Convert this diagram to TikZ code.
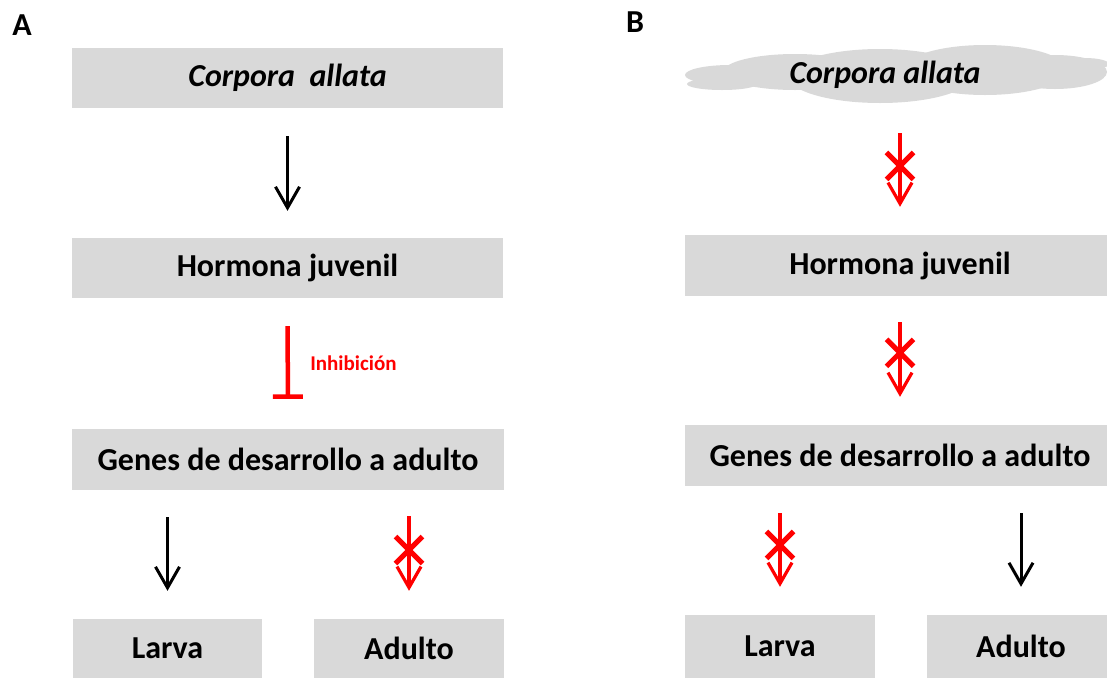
\documentclass[tikz,border=0pt]{standalone}
\usepackage{fontspec}
\setmainfont{Carlito}
\usetikzlibrary{arrows.meta,shapes.misc,calc}
\definecolor{boxgray}{HTML}{D9D9D9}
\definecolor{inhred}{HTML}{FF0000}
\tikzset{
  box/.style={fill=boxgray, draw=none, inner sep=0pt, font=\fontsize{32}{36}\selectfont\bfseries},
  blackarr/.style={draw=black, line width=3pt, -{Straight Barb[length=21pt,width=24pt]}},
  redarr/.style={draw=inhred, line width=3.2pt, -{Straight Barb[length=21pt,width=24pt]}},
  inharr/.style={draw=inhred, line width=4.5pt, -{Bar[width=30pt]}},
  xmark/.style={cross out, draw=inhred, line width=5pt, minimum width=27pt, minimum height=27pt, inner sep=0pt, outer sep=0pt},
  panel/.style={font=\fontsize{32}{36}\selectfont\bfseries},
  cloudpart/.style={fill=boxgray, draw=none}
}
\begin{document}
\begin{tikzpicture}[x=1pt,y=-1pt]
\useasboundingbox (0,0) rectangle (1107,678);
% ---------------- Panel A
\node[panel] (pa) at (22,25) {A};
\node[box, minimum width=431pt, minimum height=60pt] (a1) at (287.5,78) {\itshape Corpora\ \ allata};
\node[box, minimum width=431pt, minimum height=60pt] (a2) at (287.5,268) {Hormona juvenil};
\node[box, minimum width=432pt, minimum height=61pt] (a3) at (288,459.5) {Genes de desarrollo a adulto};
\node[box, minimum width=189pt, minimum height=59pt] (a4) at (167.5,648.5) {Larva};
\node[box, minimum width=190pt, minimum height=59pt] (a5) at (409,648.5) {Adulto};
\draw[blackarr, shorten <=28pt, shorten >=27pt] (a1.south) -- (a2.north);
\draw[inharr, shorten <=28pt, shorten >=30pt] (a2.south) -- node[right=17pt, text=inhred, font=\fontsize{21}{24}\selectfont\bfseries] (inh) {Inhibición} (a3.north);
\draw[blackarr, shorten <=27pt, shorten >=28pt] (a3.south -| a4.north) -- (a4.north);
\draw[redarr, shorten <=26pt, shorten >=28pt] (a3.south -| a5.north) -- (a5.north);
\node[xmark] (xa) at ($(a3.south -| a5.north)!0.465!(a5.north)$) {};
% ---------------- Panel B
\node[panel] (pb) at (635,22) {B};
\begin{scope}
\fill[cloudpart] (730,75) ellipse [x radius=45, y radius=10];
\fill[cloudpart] (722,84) ellipse [x radius=35, y radius=6];
\fill[cloudpart] (795,72) ellipse [x radius=72, y radius=18];
\fill[cloudpart] (880,76) ellipse [x radius=92, y radius=27];
\fill[cloudpart] (985,70) ellipse [x radius=82, y radius=25];
\fill[cloudpart] (1055,72) ellipse [x radius=52, y radius=17];
\fill[cloudpart] (1085,64) ellipse [x radius=24, y radius=6];
\end{scope}
\node[box, fill=none, minimum width=200pt, minimum height=56pt] (b1) at (885,75) {\itshape Corpora allata};
\node[box, minimum width=430pt, minimum height=61pt] (b2) at (900,265.5) {Hormona juvenil};
\node[box, minimum width=430pt, minimum height=61pt] (b3) at (900,455.5) {Genes de desarrollo a adulto};
\node[box, minimum width=190pt, minimum height=63pt] (b4) at (780,646.5) {Larva};
\node[box, minimum width=188pt, minimum height=63pt] (b5) at (1021,646.5) {Adulto};
\draw[redarr, shorten <=30pt, shorten >=28pt] (b2.north |- b1.south) -- (b2.north);
\node[xmark] (xb1) at ($(b2.north |- b1.south)!0.477!(b2.north)$) {};
\draw[redarr, shorten <=26pt, shorten >=28pt] (b2.south) -- (b3.north);
\node[xmark] (xb2) at ($(b2.south)!0.44!(b3.north)$) {};
\draw[redarr, shorten <=27pt, shorten >=28pt] (b3.south -| b4.north) -- (b4.north);
\node[xmark] (xb3) at ($(b3.south -| b4.north)!0.457!(b4.north)$) {};
\draw[blackarr, shorten <=27pt, shorten >=28pt] (b3.south -| b5.north) -- (b5.north);
\end{tikzpicture}
\end{document}
